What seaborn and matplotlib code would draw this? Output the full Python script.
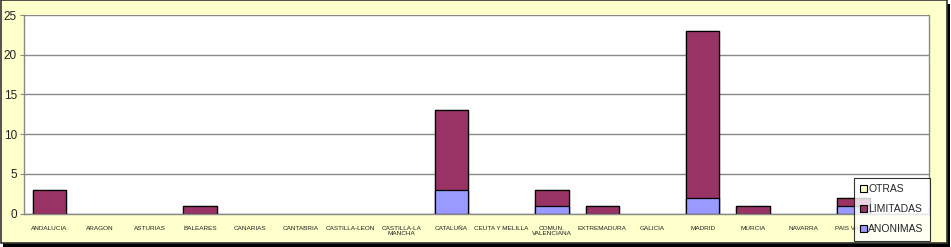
import matplotlib
matplotlib.use("Agg")
import matplotlib.pyplot as plt
import seaborn as sns
import pandas as pd
import numpy as np
from matplotlib.patches import Rectangle, Patch

categories = ["ANDALUCIA", "ARAGON", "ASTURIAS", "BALEARES", "CANARIAS", "CANTABRIA",
              "CASTILLA-LEON", "CASTILLA-LA\nMANCHA", "CATALUÑA", "CEUTA Y MELILLA",
              "COMUN.\nVALENCIANA", "EXTREMADURA", "GALICIA", "MADRID", "MURCIA",
              "NAVARRA", "PAIS VASCO", "RIOJA"]
anonimas = [0, 0, 0, 0, 0, 0, 0, 0, 3, 0, 1, 0, 0, 2, 0, 0, 1, 0]
limitadas = [3, 0, 0, 1, 0, 0, 0, 0, 10, 0, 2, 1, 0, 21, 1, 0, 1, 0]
otras = [0] * 18
yticks = [0, 5, 10, 15, 20, 25]

col_anon = "#9999FF"
col_lim = "#993366"
col_otr = "#FFFFCC"

sns.set_theme(style="white")
plt.rcParams['font.family'] = ['Liberation Sans', 'DejaVu Sans']

fig = plt.figure(figsize=(9.51, 2.47), dpi=100)
fig.patch.set_facecolor("white")
W, H = 951, 247
# shadow + frame
fig.patches.append(Rectangle((3 / W, 0), (W - 4) / W, (H - 4) / H, transform=fig.transFigure,
                             facecolor="black", edgecolor="none", zorder=0))
fig.patches.append(Rectangle((0.5 / W, 4 / H), (W - 5) / W, (H - 4.5) / H, transform=fig.transFigure,
                             facecolor="#FFFFCC", edgecolor="#333333", linewidth=1.2, zorder=1))

ax = fig.add_axes([24 / W, (H - 213.5) / H, 905 / W, 198.5 / H])
ax.set_zorder(2)

df = pd.DataFrame({"cat": categories, "anon": anonimas, "lim": limitadas, "otr": otras})
df["s2"] = df["anon"] + df["lim"]
df["s3"] = df["s2"] + df["otr"]

for col, color in [("s3", col_otr), ("s2", col_lim), ("anon", col_anon)]:
    sns.barplot(data=df, x="cat", y=col, color=color, width=0.66, edgecolor="black",
                linewidth=0.9, saturation=1, ax=ax, order=categories)

for p in ax.patches:
    if p.get_height() == 0:
        p.set_linewidth(0)
        p.set_visible(False)

ax.set_facecolor("white")
ax.set_ylim(0, 25)
ax.set_xlim(-0.5, len(categories) - 0.5)
ax.set_yticks(yticks)
ax.set_yticklabels([str(v) for v in yticks], fontsize=8.5, color="#222222")
ax.yaxis.grid(True, color="#888888", linewidth=1)
ax.set_axisbelow(True)
ax.set_xlabel("")
ax.set_ylabel("")
ax.tick_params(axis="y", left=True, length=3, width=0.8, color="#888888", pad=2)
ax.tick_params(axis="x", bottom=False, pad=3)
ax.set_xticks(range(len(categories)))
ax.set_xticklabels(categories, fontsize=4.6, color="#222222", linespacing=1.1)
for s in ["left", "bottom"]:
    ax.spines[s].set_color("#888888")
    ax.spines[s].set_linewidth(1)
ax.spines["top"].set_visible(False)
ax.spines["right"].set_color("#888888")
ax.spines["right"].set_linewidth(1)

handles = [Patch(facecolor=col_otr, edgecolor="black", linewidth=0.8, label="OTRAS"),
           Patch(facecolor=col_lim, edgecolor="black", linewidth=0.8, label="LIMITADAS"),
           Patch(facecolor=col_anon, edgecolor="black", linewidth=0.8, label="ANONIMAS")]
leg = fig.legend(handles=handles, loc="lower left", bbox_to_anchor=(854 / W, 6.5 / H),
                 fontsize=7.5, frameon=True, fancybox=False, handlelength=0.6, handleheight=0.6,
                 handletextpad=0.15, labelspacing=0.95, borderpad=0.6, borderaxespad=0)
leg.get_frame().set_edgecolor("black")
leg.get_frame().set_linewidth(0.8)
leg.get_frame().set_facecolor("white")
leg.set_zorder(5)

fig.savefig("out.png", dpi=100)
